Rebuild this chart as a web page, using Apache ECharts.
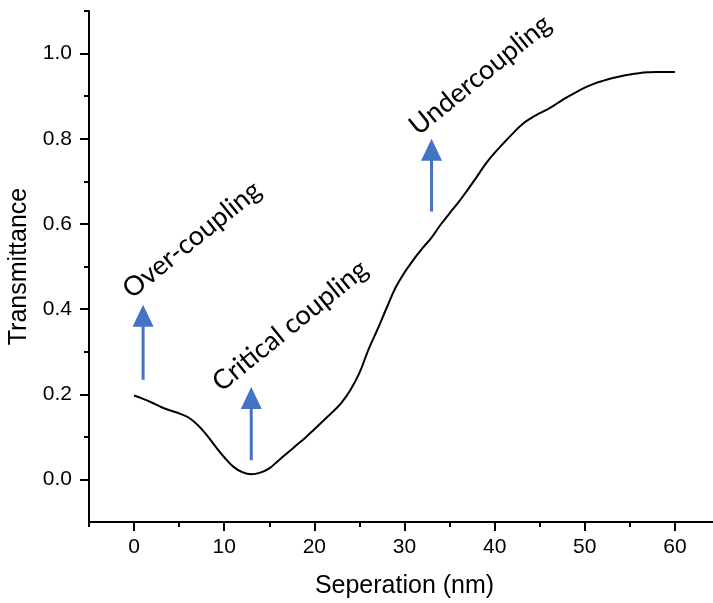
<!DOCTYPE html>
<html>
<head>
<meta charset="utf-8">
<script src="https://cdn.jsdelivr.net/npm/echarts@6/dist/echarts.min.js"></script>
<style>
  html, body { margin: 0; padding: 0; background: #fff; }
  #chart { width: 713px; height: 603px; }
</style>
</head>
<body>
<div id="chart"></div>
<script>
// Transmittance versus separation (nm), one sample per nanometre
const separation = [
  0, 1, 2, 3, 4, 5, 6, 7, 8, 9, 10, 11, 12, 13, 14, 15, 16, 17, 18, 19, 20,
  21, 22, 23, 24, 25, 26, 27, 28, 29, 30, 31, 32, 33, 34, 35, 36, 37, 38, 39, 40,
  41, 42, 43, 44, 45, 46, 47, 48, 49, 50, 51, 52, 53, 54, 55, 56, 57, 58, 59, 60
];
const transmittance = [
  0.197, 0.189, 0.180, 0.170, 0.162, 0.155, 0.146, 0.129, 0.106, 0.078, 0.052,
  0.030, 0.017, 0.012, 0.016, 0.026, 0.044, 0.062, 0.080, 0.098, 0.118,
  0.138, 0.158, 0.180, 0.210, 0.250, 0.305, 0.352, 0.402, 0.450, 0.486,
  0.516, 0.543, 0.568, 0.598, 0.625, 0.651, 0.680, 0.710, 0.741, 0.767,
  0.790, 0.812, 0.833, 0.848, 0.860, 0.871, 0.884, 0.897, 0.909, 0.920,
  0.929, 0.936, 0.942, 0.947, 0.951, 0.954, 0.956, 0.957, 0.957, 0.957
];

// Coupling regime arrows: x position, tail value, head value
const arrowX = [1, 13, 33];
const arrowFrom = [0.234, 0.045, 0.629];
const arrowTo = [0.410, 0.217, 0.800];

// Regime labels and their centres
const noteText = ['Over-coupling', 'Critical coupling', 'Undercoupling'];
const noteX = [6.4, 17.3, 38.4];
const noteY = [0.563, 0.361, 0.950];

// Axis ticks
const xMajorTicks = [0, 10, 20, 30, 40, 50, 60];
const xMinorTicks = [-5, 5, 15, 25, 35, 45, 55, 65];
const yMajorTicks = [0, 0.2, 0.4, 0.6, 0.8, 1.0];
const yMinorTicks = [0.1, 0.3, 0.5, 0.7, 0.9, 1.1];

const AXIS_FONT = 'Liberation Sans, Arial, sans-serif';
const NOTE_FONT = 'Lato, "Open Sans", sans-serif';
const ARROW_COLOR = '#4472C4';

const chart = echarts.init(document.getElementById('chart'), null, { renderer: 'canvas' });

const xRange = { min: -5, max: 65 };
const yRange = { min: -0.1, max: 1.1 };

const tickStyle = { color: '#000', width: 2 };

const option = {
  animation: false,
  backgroundColor: '#fff',
  grid: {
    left: 89, right: -7, top: 11, bottom: 81,
    containLabel: false,
    outerBoundsMode: 'none'
  },
  xAxis: [
    {
      type: 'value', ...xRange, position: 'bottom',
      name: 'Seperation (nm)', nameLocation: 'middle', nameGap: 52,
      nameTextStyle: { fontFamily: AXIS_FONT, fontSize: 25, color: '#000' },
      axisLine: { show: true, onZero: false, lineStyle: { color: '#000', width: 2 } },
      axisTick: { show: true, customValues: xMajorTicks, length: 9, lineStyle: tickStyle },
      axisLabel: { show: true, customValues: xMajorTicks, margin: 15, fontFamily: AXIS_FONT, fontSize: 21, color: '#000' },
      splitLine: { show: false }
    },
    {
      type: 'value', ...xRange, position: 'bottom',
      axisLine: { show: false, onZero: false },
      axisTick: { show: true, customValues: xMinorTicks, length: 5, lineStyle: tickStyle },
      axisLabel: { show: false },
      splitLine: { show: false }
    }
  ],
  yAxis: [
    {
      type: 'value', ...yRange, position: 'left',
      name: 'Transmittance', nameLocation: 'middle', nameRotate: 90, nameGap: 53,
      nameTextStyle: { fontFamily: AXIS_FONT, fontSize: 25, color: '#000' },
      axisLine: { show: true, onZero: false, lineStyle: { color: '#000', width: 2 } },
      axisTick: { show: true, customValues: yMajorTicks, length: 9, lineStyle: tickStyle },
      axisLabel: {
        show: true, customValues: yMajorTicks, margin: 17,
        fontFamily: AXIS_FONT, fontSize: 21, color: '#000',
        formatter: v => Number(v).toFixed(1)
      },
      splitLine: { show: false }
    },
    {
      type: 'value', ...yRange, position: 'left',
      axisLine: { show: false, onZero: false },
      axisTick: { show: true, customValues: yMinorTicks, length: 5, lineStyle: tickStyle },
      axisLabel: { show: false },
      splitLine: { show: false }
    }
  ],
  series: [
    {
      type: 'line',
      xAxisIndex: 0, yAxisIndex: 0,
      data: separation.map((x, i) => [x, transmittance[i]]),
      smooth: 0.4,
      showSymbol: false,
      symbol: 'none',
      lineStyle: { color: '#000', width: 2 },
      z: 3
    },
    {
      type: 'custom',
      xAxisIndex: 0, yAxisIndex: 0,
      data: arrowX.map((x, i) => [x, arrowFrom[i], arrowTo[i]]),
      encode: { x: 0, y: [1, 2] },
      renderItem: function (params, api) {
        const tail = api.coord([api.value(0), api.value(1)]);
        const tip = api.coord([api.value(0), api.value(2)]);
        const headH = 22, headW = 21;
        return {
          type: 'group',
          children: [
            {
              type: 'line',
              shape: { x1: tail[0], y1: tail[1], x2: tip[0], y2: tip[1] + headH - 1 },
              style: { stroke: ARROW_COLOR, lineWidth: 3 }
            },
            {
              type: 'polygon',
              shape: { points: [[tip[0], tip[1]], [tip[0] - headW / 2, tip[1] + headH], [tip[0] + headW / 2, tip[1] + headH]] },
              style: { fill: ARROW_COLOR }
            }
          ]
        };
      },
      z: 4
    },
    {
      type: 'custom',
      xAxisIndex: 0, yAxisIndex: 0,
      data: noteX.map((x, i) => [x, noteY[i], i]),
      encode: { x: 0, y: 1 },
      renderItem: function (params, api) {
        const p = api.coord([api.value(0), api.value(1)]);
        return {
          type: 'text',
          x: p[0], y: p[1],
          rotation: 39 * Math.PI / 180,
          style: {
            text: noteText[api.value(2)],
            fontFamily: NOTE_FONT,
            fontSize: 27,
            fill: '#000',
            align: 'center',
            verticalAlign: 'middle'
          }
        };
      },
      z: 5
    }
  ]
};

chart.setOption(option);
</script>
</body>
</html>
